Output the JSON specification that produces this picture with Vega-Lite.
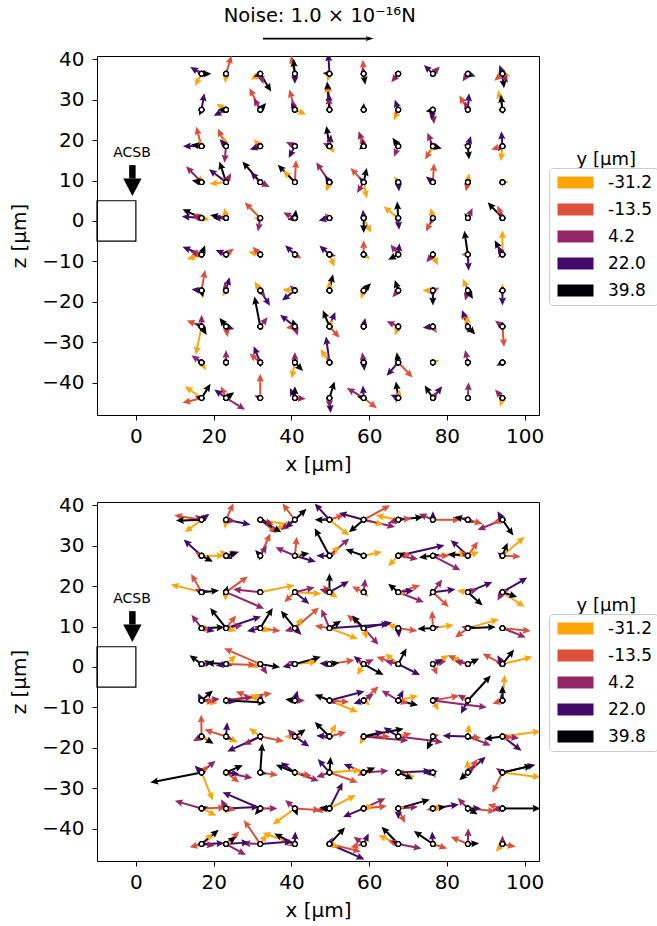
{
"$schema":"https://vega.github.io/schema/vega-lite/v6.json",
"padding":{"left":9,"top":5,"right":0,"bottom":0},
"config":{"font":"DejaVu Sans","view":{"stroke":"black","strokeWidth":1},
"axis":{"grid":false,"domain":false,"tickColor":"black","tickSize":5,"labelColor":"black","titleColor":"black","labelFontSize":20,"titleFontSize":20,"titleFontWeight":"normal","labelFont":"DejaVu Sans","titleFont":"DejaVu Sans"}},
"datasets":{
"acsb":[{"x":-10,"x2":0,"z":-5,"z2":5}],
"acsbt":[{"x":-1.0,"z":15.7,"t":"ACSB"}],
"acsba":[{"x":-0.9,"z":13.8,"z2":10.5}],
"ylab":[{"x":121,"z":15,"t":"y [μm]"}],
"noise":[{"x":47.3,"z":49.2,"t":"Noise: 1.0 × 10⁻¹⁶N"}],
"key":[{"x":32.7,"z":45.1,"u":28.5}],
"top":[
{"x":16.9,"z":36.4,"y":"39.8","u":2.5,"v":0},{"x":16.9,"z":36.4,"y":"22.0","u":-2.9,"v":1.7},{"x":16.9,"z":36.4,"y":"4.2","u":-1.2,"v":1},{"x":16.9,"z":36.4,"y":"-13.5","u":1,"v":1},{"x":16.9,"z":36.4,"y":"-31.2","u":-1.7,"v":-3},
{"x":23.2,"z":36.4,"y":"39.8","u":0.4,"v":0.4},{"x":23.2,"z":36.4,"y":"22.0","u":-0.2,"v":-0.7},{"x":23.2,"z":36.4,"y":"4.2","u":-0.4,"v":-0.8},{"x":23.2,"z":36.4,"y":"-13.5","u":1.4,"v":4.5},{"x":23.2,"z":36.4,"y":"-31.2","u":-0.2,"v":-2.3},
{"x":32,"z":36.4,"y":"39.8","u":2.8,"v":-4.4},{"x":32,"z":36.4,"y":"22.0","u":-1.7,"v":-0.8},{"x":32,"z":36.4,"y":"4.2","u":0.8,"v":-2.5},{"x":32,"z":36.4,"y":"-13.5","u":-0.8,"v":0.4},{"x":32,"z":36.4,"y":"-31.2","u":-2.5,"v":-1.5},
{"x":40.9,"z":36.4,"y":"39.8","u":-0.4,"v":3.7},{"x":40.9,"z":36.4,"y":"22.0","u":0,"v":-2.5},{"x":40.9,"z":36.4,"y":"4.2","u":-0.3,"v":-1.2},{"x":40.9,"z":36.4,"y":"-13.5","u":-1,"v":4.5},{"x":40.9,"z":36.4,"y":"-31.2","u":0.4,"v":-0.8},
{"x":49.8,"z":36.4,"y":"39.8","u":-1.7,"v":0.2},{"x":49.8,"z":36.4,"y":"22.0","u":-0.3,"v":5.1},{"x":49.8,"z":36.4,"y":"4.2","u":-0.4,"v":1.2},{"x":49.8,"z":36.4,"y":"-13.5","u":-0.4,"v":-0.8},{"x":49.8,"z":36.4,"y":"-31.2","u":-0.6,"v":-1.9},
{"x":58.6,"z":36.4,"y":"39.8","u":0.4,"v":-2.7},{"x":58.6,"z":36.4,"y":"22.0","u":0,"v":0.8},{"x":58.6,"z":36.4,"y":"4.2","u":-0.4,"v":1.7},{"x":58.6,"z":36.4,"y":"-13.5","u":-0.2,"v":3.5},{"x":58.6,"z":36.4,"y":"-31.2","u":0.8,"v":-1.2},
{"x":67.5,"z":36.4,"y":"39.8","u":-0.4,"v":0},{"x":67.5,"z":36.4,"y":"22.0","u":-0.8,"v":-1.2},{"x":67.5,"z":36.4,"y":"4.2","u":-1.8,"v":-2.1},{"x":67.5,"z":36.4,"y":"-13.5","u":-0.8,"v":-0.8},{"x":67.5,"z":36.4,"y":"-31.2","u":-1.2,"v":0.4},
{"x":76.4,"z":36.4,"y":"39.8","u":0,"v":0.4},{"x":76.4,"z":36.4,"y":"22.0","u":-2.3,"v":2.2},{"x":76.4,"z":36.4,"y":"4.2","u":1.8,"v":1.8},{"x":76.4,"z":36.4,"y":"-13.5","u":1.2,"v":1.2},{"x":76.4,"z":36.4,"y":"-31.2","u":0.8,"v":0.8},
{"x":85.4,"z":36.4,"y":"39.8","u":0.4,"v":0.4},{"x":85.4,"z":36.4,"y":"22.0","u":2,"v":-0.7},{"x":85.4,"z":36.4,"y":"4.2","u":-1.4,"v":-1.9},{"x":85.4,"z":36.4,"y":"-13.5","u":-0.4,"v":-0.4},{"x":85.4,"z":36.4,"y":"-31.2","u":-0.8,"v":-0.8},
{"x":94.3,"z":36.4,"y":"39.8","u":0.4,"v":-3.6},{"x":94.3,"z":36.4,"y":"22.0","u":-0.8,"v":2.2},{"x":94.3,"z":36.4,"y":"4.2","u":1.4,"v":-2.3},{"x":94.3,"z":36.4,"y":"-13.5","u":-2.1,"v":-1.7},{"x":94.3,"z":36.4,"y":"-31.2","u":2,"v":-0.5},
{"x":16.9,"z":27.5,"y":"39.8","u":-0.6,"v":-1.5},{"x":16.9,"z":27.5,"y":"22.0","u":0.7,"v":4.1},{"x":16.9,"z":27.5,"y":"4.2","u":-0.4,"v":-0.4},{"x":16.9,"z":27.5,"y":"-13.5","u":0.4,"v":0.8},{"x":16.9,"z":27.5,"y":"-31.2","u":0.2,"v":-0.7},
{"x":23.2,"z":27.5,"y":"39.8","u":-2.1,"v":0},{"x":23.2,"z":27.5,"y":"22.0","u":-3.2,"v":-1.5},{"x":23.2,"z":27.5,"y":"4.2","u":-1.7,"v":-0.8},{"x":23.2,"z":27.5,"y":"-13.5","u":-1.2,"v":0.4},{"x":23.2,"z":27.5,"y":"-31.2","u":-2.5,"v":1.5},
{"x":32,"z":27.5,"y":"39.8","u":1.5,"v":1.7},{"x":32,"z":27.5,"y":"22.0","u":-0.8,"v":0.8},{"x":32,"z":27.5,"y":"4.2","u":-1.7,"v":2.9},{"x":32,"z":27.5,"y":"-13.5","u":-2.8,"v":5.4},{"x":32,"z":27.5,"y":"-31.2","u":-0.8,"v":-0.8},
{"x":40.9,"z":27.5,"y":"39.8","u":0,"v":0.7},{"x":40.9,"z":27.5,"y":"22.0","u":-1,"v":1.7},{"x":40.9,"z":27.5,"y":"4.2","u":-0.8,"v":2.5},{"x":40.9,"z":27.5,"y":"-13.5","u":-1.4,"v":5},{"x":40.9,"z":27.5,"y":"-31.2","u":2.9,"v":-1.2},
{"x":49.8,"z":27.5,"y":"39.8","u":-0.6,"v":7},{"x":49.8,"z":27.5,"y":"22.0","u":-0.2,"v":4.1},{"x":49.8,"z":27.5,"y":"4.2","u":-0.2,"v":3.3},{"x":49.8,"z":27.5,"y":"-13.5","u":-0.4,"v":6.6},{"x":49.8,"z":27.5,"y":"-31.2","u":-0.6,"v":6.2},
{"x":58.6,"z":27.5,"y":"39.8","u":0,"v":1.7},{"x":58.6,"z":27.5,"y":"22.0","u":-0.2,"v":0.4},{"x":58.6,"z":27.5,"y":"4.2","u":-0.8,"v":0},{"x":58.6,"z":27.5,"y":"-13.5","u":0.2,"v":0.4},{"x":58.6,"z":27.5,"y":"-31.2","u":0.2,"v":-0.4},
{"x":67.5,"z":27.5,"y":"39.8","u":-0.4,"v":-0.4},{"x":67.5,"z":27.5,"y":"22.0","u":-0.9,"v":2.5},{"x":67.5,"z":27.5,"y":"4.2","u":-0.8,"v":-1.2},{"x":67.5,"z":27.5,"y":"-13.5","u":-0.4,"v":0.8},{"x":67.5,"z":27.5,"y":"-31.2","u":-1.1,"v":-2.6},
{"x":76.4,"z":27.5,"y":"39.8","u":-1.8,"v":-0.4},{"x":76.4,"z":27.5,"y":"22.0","u":-0.4,"v":-2.5},{"x":76.4,"z":27.5,"y":"4.2","u":0.3,"v":-3.5},{"x":76.4,"z":27.5,"y":"-13.5","u":0,"v":-1.2},{"x":76.4,"z":27.5,"y":"-31.2","u":0.4,"v":-0.8},
{"x":85.4,"z":27.5,"y":"39.8","u":0,"v":0.8},{"x":85.4,"z":27.5,"y":"22.0","u":0.3,"v":4.1},{"x":85.4,"z":27.5,"y":"4.2","u":-0.8,"v":2.1},{"x":85.4,"z":27.5,"y":"-13.5","u":-2.2,"v":3.5},{"x":85.4,"z":27.5,"y":"-31.2","u":-0.4,"v":1.2},
{"x":94.3,"z":27.5,"y":"39.8","u":-0.4,"v":3.7},{"x":94.3,"z":27.5,"y":"22.0","u":0,"v":-0.8},{"x":94.3,"z":27.5,"y":"4.2","u":0.2,"v":-1.2},{"x":94.3,"z":27.5,"y":"-13.5","u":-0.4,"v":0.8},{"x":94.3,"z":27.5,"y":"-31.2","u":-1.1,"v":4.8},
{"x":16.9,"z":18.5,"y":"39.8","u":-2.7,"v":0.4},{"x":16.9,"z":18.5,"y":"22.0","u":-4.8,"v":0},{"x":16.9,"z":18.5,"y":"4.2","u":-1.7,"v":0},{"x":16.9,"z":18.5,"y":"-13.5","u":-1.4,"v":4.8},{"x":16.9,"z":18.5,"y":"-31.2","u":-0.8,"v":1.7},
{"x":23.2,"z":18.5,"y":"39.8","u":0.4,"v":0.4},{"x":23.2,"z":18.5,"y":"22.0","u":-1.7,"v":1.7},{"x":23.2,"z":18.5,"y":"4.2","u":-0.4,"v":-4.1},{"x":23.2,"z":18.5,"y":"-13.5","u":-2.1,"v":4.3},{"x":23.2,"z":18.5,"y":"-31.2","u":-0.8,"v":2.5},
{"x":32,"z":18.5,"y":"39.8","u":-0.4,"v":0},{"x":32,"z":18.5,"y":"22.0","u":-2.7,"v":-0.8},{"x":32,"z":18.5,"y":"4.2","u":-2.1,"v":-0.4},{"x":32,"z":18.5,"y":"-13.5","u":-0.8,"v":0.8},{"x":32,"z":18.5,"y":"-31.2","u":-1.7,"v":1.7},
{"x":40.9,"z":18.5,"y":"39.8","u":0,"v":0.8},{"x":40.9,"z":18.5,"y":"22.0","u":-1.6,"v":-2.9},{"x":40.9,"z":18.5,"y":"4.2","u":-2.3,"v":1},{"x":40.9,"z":18.5,"y":"-13.5","u":-0.8,"v":-0.8},{"x":40.9,"z":18.5,"y":"-31.2","u":-0.8,"v":0.8},
{"x":49.8,"z":18.5,"y":"39.8","u":-0.8,"v":5},{"x":49.8,"z":18.5,"y":"22.0","u":0.4,"v":2.9},{"x":49.8,"z":18.5,"y":"4.2","u":-1.7,"v":0.8},{"x":49.8,"z":18.5,"y":"-13.5","u":-0.4,"v":1.7},{"x":49.8,"z":18.5,"y":"-31.2","u":1.3,"v":-1.7},
{"x":58.6,"z":18.5,"y":"39.8","u":-1.2,"v":-0.8},{"x":58.6,"z":18.5,"y":"22.0","u":-0.4,"v":1.7},{"x":58.6,"z":18.5,"y":"4.2","u":-1.3,"v":3.7},{"x":58.6,"z":18.5,"y":"-13.5","u":-0.7,"v":2.5},{"x":58.6,"z":18.5,"y":"-31.2","u":0.4,"v":0.8},
{"x":67.5,"z":18.5,"y":"39.8","u":-1.5,"v":2.1},{"x":67.5,"z":18.5,"y":"22.0","u":-0.4,"v":-0.8},{"x":67.5,"z":18.5,"y":"4.2","u":-1.1,"v":-2.6},{"x":67.5,"z":18.5,"y":"-13.5","u":0.4,"v":1.2},{"x":67.5,"z":18.5,"y":"-31.2","u":-0.8,"v":-1.2},
{"x":76.4,"z":18.5,"y":"39.8","u":2.3,"v":-0.6},{"x":76.4,"z":18.5,"y":"22.0","u":-0.8,"v":1.2},{"x":76.4,"z":18.5,"y":"4.2","u":-1.4,"v":3.3},{"x":76.4,"z":18.5,"y":"-13.5","u":-2,"v":-3.3},{"x":76.4,"z":18.5,"y":"-31.2","u":-0.8,"v":-1.7},
{"x":85.4,"z":18.5,"y":"39.8","u":0.3,"v":-3.3},{"x":85.4,"z":18.5,"y":"22.0","u":0.8,"v":2.5},{"x":85.4,"z":18.5,"y":"4.2","u":0.4,"v":-0.8},{"x":85.4,"z":18.5,"y":"-13.5","u":-1.2,"v":0.4},{"x":85.4,"z":18.5,"y":"-31.2","u":-0.8,"v":0.4},
{"x":94.3,"z":18.5,"y":"39.8","u":0.4,"v":0.8},{"x":94.3,"z":18.5,"y":"22.0","u":-0.3,"v":3.7},{"x":94.3,"z":18.5,"y":"4.2","u":-1.2,"v":-1.2},{"x":94.3,"z":18.5,"y":"-13.5","u":-2.9,"v":-0.8},{"x":94.3,"z":18.5,"y":"-31.2","u":-0.4,"v":-3.7},
{"x":16.9,"z":9.6,"y":"39.8","u":-2.5,"v":0.4},{"x":16.9,"z":9.6,"y":"22.0","u":-1.2,"v":0.8},{"x":16.9,"z":9.6,"y":"4.2","u":-4,"v":3.9},{"x":16.9,"z":9.6,"y":"-13.5","u":-0.8,"v":1.2},{"x":16.9,"z":9.6,"y":"-31.2","u":-0.4,"v":1.7},
{"x":23.2,"z":9.6,"y":"39.8","u":-1.7,"v":5.1},{"x":23.2,"z":9.6,"y":"22.0","u":-4.4,"v":3.2},{"x":23.2,"z":9.6,"y":"4.2","u":1.3,"v":2.2},{"x":23.2,"z":9.6,"y":"-13.5","u":-0.8,"v":1.2},{"x":23.2,"z":9.6,"y":"-31.2","u":-4.3,"v":-0.4},
{"x":32,"z":9.6,"y":"39.8","u":-4.6,"v":5.1},{"x":32,"z":9.6,"y":"22.0","u":-2.5,"v":2.5},{"x":32,"z":9.6,"y":"4.2","u":2.4,"v":-1.2},{"x":32,"z":9.6,"y":"-13.5","u":-1.2,"v":0.8},{"x":32,"z":9.6,"y":"-31.2","u":-0.8,"v":-0.4},
{"x":40.9,"z":9.6,"y":"39.8","u":-4.4,"v":4.3},{"x":40.9,"z":9.6,"y":"22.0","u":-0.8,"v":-0.4},{"x":40.9,"z":9.6,"y":"4.2","u":-0.4,"v":-0.8},{"x":40.9,"z":9.6,"y":"-13.5","u":0.3,"v":5.5},{"x":40.9,"z":9.6,"y":"-31.2","u":-3,"v":2.9},
{"x":49.8,"z":9.6,"y":"39.8","u":-0.8,"v":0.8},{"x":49.8,"z":9.6,"y":"22.0","u":-1.2,"v":1.7},{"x":49.8,"z":9.6,"y":"4.2","u":-3.4,"v":4.9},{"x":49.8,"z":9.6,"y":"-13.5","u":-0.4,"v":-0.8},{"x":49.8,"z":9.6,"y":"-31.2","u":-0.8,"v":-2.3},
{"x":58.6,"z":9.6,"y":"39.8","u":0.8,"v":3.5},{"x":58.6,"z":9.6,"y":"22.0","u":-1.2,"v":1.2},{"x":58.6,"z":9.6,"y":"4.2","u":-1.7,"v":-2.7},{"x":58.6,"z":9.6,"y":"-13.5","u":-3.4,"v":3.5},{"x":58.6,"z":9.6,"y":"-31.2","u":0.8,"v":-4},
{"x":67.5,"z":9.6,"y":"39.8","u":0.4,"v":0.4},{"x":67.5,"z":9.6,"y":"22.0","u":0.2,"v":-2.3},{"x":67.5,"z":9.6,"y":"4.2","u":-0.4,"v":-0.8},{"x":67.5,"z":9.6,"y":"-13.5","u":0.4,"v":-0.4},{"x":67.5,"z":9.6,"y":"-31.2","u":-1.1,"v":1.4},
{"x":76.4,"z":9.6,"y":"39.8","u":-0.4,"v":0},{"x":76.4,"z":9.6,"y":"22.0","u":-1.8,"v":1.4},{"x":76.4,"z":9.6,"y":"4.2","u":-0.8,"v":0.4},{"x":76.4,"z":9.6,"y":"-13.5","u":0.3,"v":4.7},{"x":76.4,"z":9.6,"y":"-31.2","u":-0.4,"v":0.8},
{"x":85.4,"z":9.6,"y":"39.8","u":0,"v":-0.4},{"x":85.4,"z":9.6,"y":"22.0","u":0.4,"v":0.8},{"x":85.4,"z":9.6,"y":"4.2","u":0,"v":-0.8},{"x":85.4,"z":9.6,"y":"-13.5","u":-0.5,"v":-2.3},{"x":85.4,"z":9.6,"y":"-31.2","u":0.3,"v":2.2},
{"x":94.3,"z":9.6,"y":"39.8","u":0.4,"v":0.4},{"x":94.3,"z":9.6,"y":"22.0","u":-0.4,"v":0.4},{"x":94.3,"z":9.6,"y":"4.2","u":-0.8,"v":-0.4},{"x":94.3,"z":9.6,"y":"-13.5","u":0,"v":-1.2},{"x":94.3,"z":9.6,"y":"-31.2","u":1.7,"v":0},
{"x":16.9,"z":0.7,"y":"39.8","u":-4.9,"v":2.2},{"x":16.9,"z":0.7,"y":"22.0","u":-5.1,"v":0.4},{"x":16.9,"z":0.7,"y":"4.2","u":-2.5,"v":0.4},{"x":16.9,"z":0.7,"y":"-13.5","u":-2.1,"v":1.2},{"x":16.9,"z":0.7,"y":"-31.2","u":2.1,"v":-0.4},
{"x":23.2,"z":0.7,"y":"39.8","u":-4.1,"v":0.8},{"x":23.2,"z":0.7,"y":"22.0","u":-3.4,"v":0},{"x":23.2,"z":0.7,"y":"4.2","u":-1.7,"v":0.4},{"x":23.2,"z":0.7,"y":"-13.5","u":-1.2,"v":-0.4},{"x":23.2,"z":0.7,"y":"-31.2","u":-0.4,"v":2.5},
{"x":32,"z":0.7,"y":"39.8","u":-0.8,"v":-0.8},{"x":32,"z":0.7,"y":"22.0","u":-0.4,"v":-1.2},{"x":32,"z":0.7,"y":"4.2","u":-0.6,"v":-3.3},{"x":32,"z":0.7,"y":"-13.5","u":-4,"v":3.9},{"x":32,"z":0.7,"y":"-31.2","u":-1.7,"v":0},
{"x":40.9,"z":0.7,"y":"39.8","u":0.3,"v":2.1},{"x":40.9,"z":0.7,"y":"22.0","u":-1.9,"v":-0.4},{"x":40.9,"z":0.7,"y":"4.2","u":-3,"v":1.4},{"x":40.9,"z":0.7,"y":"-13.5","u":-0.4,"v":-0.4},{"x":40.9,"z":0.7,"y":"-31.2","u":-0.4,"v":0.8},
{"x":49.8,"z":0.7,"y":"39.8","u":-0.4,"v":0},{"x":49.8,"z":0.7,"y":"22.0","u":-2.8,"v":-0.6},{"x":49.8,"z":0.7,"y":"4.2","u":-1.7,"v":0.4},{"x":49.8,"z":0.7,"y":"-13.5","u":-1.3,"v":1.2},{"x":49.8,"z":0.7,"y":"-31.2","u":-0.8,"v":0.8},
{"x":58.6,"z":0.7,"y":"39.8","u":0,"v":-3.7},{"x":58.6,"z":0.7,"y":"22.0","u":-0.2,"v":2.1},{"x":58.6,"z":0.7,"y":"4.2","u":-0.4,"v":1.2},{"x":58.6,"z":0.7,"y":"-13.5","u":0,"v":-0.8},{"x":58.6,"z":0.7,"y":"-31.2","u":1.9,"v":-3.6},
{"x":67.5,"z":0.7,"y":"39.8","u":-0.3,"v":4.1},{"x":67.5,"z":0.7,"y":"22.0","u":0.2,"v":-2.9},{"x":67.5,"z":0.7,"y":"4.2","u":-0.4,"v":-1.7},{"x":67.5,"z":0.7,"y":"-13.5","u":-0.8,"v":0.8},{"x":67.5,"z":0.7,"y":"-31.2","u":-3.8,"v":2.9},
{"x":76.4,"z":0.7,"y":"39.8","u":0,"v":0.4},{"x":76.4,"z":0.7,"y":"22.0","u":0.4,"v":-0.8},{"x":76.4,"z":0.7,"y":"4.2","u":-0.8,"v":-1.7},{"x":76.4,"z":0.7,"y":"-13.5","u":-1.8,"v":-3.3},{"x":76.4,"z":0.7,"y":"-31.2","u":-0.6,"v":2.5},
{"x":85.4,"z":0.7,"y":"39.8","u":-0.9,"v":1.2},{"x":85.4,"z":0.7,"y":"22.0","u":0.8,"v":0.8},{"x":85.4,"z":0.7,"y":"4.2","u":1.2,"v":2.5},{"x":85.4,"z":0.7,"y":"-13.5","u":0.4,"v":0.4},{"x":85.4,"z":0.7,"y":"-31.2","u":-0.4,"v":0.8},
{"x":94.3,"z":0.7,"y":"39.8","u":-3.8,"v":3.9},{"x":94.3,"z":0.7,"y":"22.0","u":0,"v":0.8},{"x":94.3,"z":0.7,"y":"4.2","u":-0.4,"v":1.7},{"x":94.3,"z":0.7,"y":"-13.5","u":-1.3,"v":3.1},{"x":94.3,"z":0.7,"y":"-31.2","u":0,"v":1.2},
{"x":16.9,"z":-8.3,"y":"39.8","u":0.9,"v":2.3},{"x":16.9,"z":-8.3,"y":"22.0","u":-4.9,"v":1.9},{"x":16.9,"z":-8.3,"y":"4.2","u":-3,"v":0.8},{"x":16.9,"z":-8.3,"y":"-13.5","u":-2.6,"v":0},{"x":16.9,"z":-8.3,"y":"-31.2","u":-3.8,"v":-1.2},
{"x":23.2,"z":-8.3,"y":"39.8","u":0.8,"v":-0.4},{"x":23.2,"z":-8.3,"y":"22.0","u":-2.7,"v":1.1},{"x":23.2,"z":-8.3,"y":"4.2","u":-1.7,"v":0.4},{"x":23.2,"z":-8.3,"y":"-13.5","u":2,"v":1.5},{"x":23.2,"z":-8.3,"y":"-31.2","u":-0.8,"v":0.8},
{"x":32,"z":-8.3,"y":"39.8","u":0,"v":-0.4},{"x":32,"z":-8.3,"y":"22.0","u":-0.4,"v":0.4},{"x":32,"z":-8.3,"y":"4.2","u":-0.8,"v":0.8},{"x":32,"z":-8.3,"y":"-13.5","u":-2,"v":1.9},{"x":32,"z":-8.3,"y":"-31.2","u":-3.1,"v":0.7},
{"x":40.9,"z":-8.3,"y":"39.8","u":0.4,"v":0.4},{"x":40.9,"z":-8.3,"y":"22.0","u":-2.5,"v":2.3},{"x":40.9,"z":-8.3,"y":"4.2","u":-0.8,"v":0.8},{"x":40.9,"z":-8.3,"y":"-13.5","u":1.7,"v":-1},{"x":40.9,"z":-8.3,"y":"-31.2","u":0.8,"v":-0.8},
{"x":49.8,"z":-8.3,"y":"39.8","u":0.4,"v":0.4},{"x":49.8,"z":-8.3,"y":"22.0","u":-2.6,"v":2.2},{"x":49.8,"z":-8.3,"y":"4.2","u":1.7,"v":-0.4},{"x":49.8,"z":-8.3,"y":"-13.5","u":0,"v":-0.8},{"x":49.8,"z":-8.3,"y":"-31.2","u":1.3,"v":-3},
{"x":58.6,"z":-8.3,"y":"39.8","u":0.4,"v":-0.8},{"x":58.6,"z":-8.3,"y":"22.0","u":-0.4,"v":0.4},{"x":58.6,"z":-8.3,"y":"4.2","u":-0.4,"v":-0.4},{"x":58.6,"z":-8.3,"y":"-13.5","u":0,"v":3.5},{"x":58.6,"z":-8.3,"y":"-31.2","u":1.7,"v":-1.1},
{"x":67.5,"z":-8.3,"y":"39.8","u":-2.6,"v":-1.3},{"x":67.5,"z":-8.3,"y":"22.0","u":0.3,"v":2.8},{"x":67.5,"z":-8.3,"y":"4.2","u":-2,"v":2.5},{"x":67.5,"z":-8.3,"y":"-13.5","u":-0.8,"v":0.8},{"x":67.5,"z":-8.3,"y":"-31.2","u":-0.4,"v":-0.4},
{"x":76.4,"z":-8.3,"y":"39.8","u":0,"v":-0.4},{"x":76.4,"z":-8.3,"y":"22.0","u":-0.4,"v":0.8},{"x":76.4,"z":-8.3,"y":"4.2","u":-1.7,"v":-1.9},{"x":76.4,"z":-8.3,"y":"-13.5","u":-0.8,"v":0.4},{"x":76.4,"z":-8.3,"y":"-31.2","u":1.3,"v":-2.7},
{"x":85.4,"z":-8.3,"y":"39.8","u":-0.9,"v":5.9},{"x":85.4,"z":-8.3,"y":"22.0","u":0.2,"v":-4},{"x":85.4,"z":-8.3,"y":"4.2","u":-0.4,"v":-0.8},{"x":85.4,"z":-8.3,"y":"-13.5","u":-1.7,"v":0},{"x":85.4,"z":-8.3,"y":"-31.2","u":-0.8,"v":0.4},
{"x":94.3,"z":-8.3,"y":"39.8","u":-2,"v":3.5},{"x":94.3,"z":-8.3,"y":"22.0","u":-1.3,"v":2.1},{"x":94.3,"z":-8.3,"y":"4.2","u":-0.4,"v":0.8},{"x":94.3,"z":-8.3,"y":"-13.5","u":-1.3,"v":-0.8},{"x":94.3,"z":-8.3,"y":"-31.2","u":0,"v":6},
{"x":16.9,"z":-17.2,"y":"39.8","u":0.4,"v":-1.7},{"x":16.9,"z":-17.2,"y":"22.0","u":-2.6,"v":0.3},{"x":16.9,"z":-17.2,"y":"4.2","u":-0.8,"v":-0.8},{"x":16.9,"z":-17.2,"y":"-13.5","u":0.9,"v":5.1},{"x":16.9,"z":-17.2,"y":"-31.2","u":0.3,"v":-1.9},
{"x":23.2,"z":-17.2,"y":"39.8","u":0.4,"v":0.8},{"x":23.2,"z":-17.2,"y":"22.0","u":0.9,"v":3.3},{"x":23.2,"z":-17.2,"y":"4.2","u":-0.4,"v":2.1},{"x":23.2,"z":-17.2,"y":"-13.5","u":-0.8,"v":0.8},{"x":23.2,"z":-17.2,"y":"-31.2","u":-1,"v":-1.5},
{"x":32,"z":-17.2,"y":"39.8","u":0.4,"v":-0.8},{"x":32,"z":-17.2,"y":"22.0","u":2.5,"v":-3.8},{"x":32,"z":-17.2,"y":"4.2","u":1.3,"v":-1.7},{"x":32,"z":-17.2,"y":"-13.5","u":-0.8,"v":0.8},{"x":32,"z":-17.2,"y":"-31.2","u":-1.5,"v":2.2},
{"x":40.9,"z":-17.2,"y":"39.8","u":0.4,"v":0.8},{"x":40.9,"z":-17.2,"y":"22.0","u":-3.3,"v":-2.5},{"x":40.9,"z":-17.2,"y":"4.2","u":-1.3,"v":1.3},{"x":40.9,"z":-17.2,"y":"-13.5","u":-0.8,"v":0},{"x":40.9,"z":-17.2,"y":"-31.2","u":-3.2,"v":0.2},
{"x":49.8,"z":-17.2,"y":"39.8","u":0.9,"v":4},{"x":49.8,"z":-17.2,"y":"22.0","u":0,"v":0.8},{"x":49.8,"z":-17.2,"y":"4.2","u":-0.4,"v":0.4},{"x":49.8,"z":-17.2,"y":"-13.5","u":-0.8,"v":0.4},{"x":49.8,"z":-17.2,"y":"-31.2","u":0,"v":2.5},
{"x":58.6,"z":-17.2,"y":"39.8","u":1.9,"v":1.8},{"x":58.6,"z":-17.2,"y":"22.0","u":-0.3,"v":0.6},{"x":58.6,"z":-17.2,"y":"4.2","u":-0.6,"v":0.3},{"x":58.6,"z":-17.2,"y":"-13.5","u":0.3,"v":0.5},{"x":58.6,"z":-17.2,"y":"-31.2","u":-0.7,"v":-2.1},
{"x":67.5,"z":-17.2,"y":"39.8","u":-0.9,"v":2.6},{"x":67.5,"z":-17.2,"y":"22.0","u":-0.4,"v":0.8},{"x":67.5,"z":-17.2,"y":"4.2","u":-1.5,"v":-1.7},{"x":67.5,"z":-17.2,"y":"-13.5","u":0.4,"v":-0.4},{"x":67.5,"z":-17.2,"y":"-31.2","u":0,"v":-0.8},
{"x":76.4,"z":-17.2,"y":"39.8","u":0,"v":-3.7},{"x":76.4,"z":-17.2,"y":"22.0","u":0,"v":-1.7},{"x":76.4,"z":-17.2,"y":"4.2","u":-0.8,"v":-0.8},{"x":76.4,"z":-17.2,"y":"-13.5","u":1.7,"v":0.7},{"x":76.4,"z":-17.2,"y":"-31.2","u":-2.7,"v":0},
{"x":85.4,"z":-17.2,"y":"39.8","u":1.3,"v":-2.1},{"x":85.4,"z":-17.2,"y":"22.0","u":-0.4,"v":1.2},{"x":85.4,"z":-17.2,"y":"4.2","u":-0.7,"v":-2.5},{"x":85.4,"z":-17.2,"y":"-13.5","u":-0.4,"v":-0.8},{"x":85.4,"z":-17.2,"y":"-31.2","u":-1.3,"v":2.9},
{"x":94.3,"z":-17.2,"y":"39.8","u":0,"v":-0.8},{"x":94.3,"z":-17.2,"y":"22.0","u":0,"v":-3.7},{"x":94.3,"z":-17.2,"y":"4.2","u":-1.2,"v":-0.4},{"x":94.3,"z":-17.2,"y":"-13.5","u":0.4,"v":0.8},{"x":94.3,"z":-17.2,"y":"-31.2","u":0,"v":1.7},
{"x":16.9,"z":-26.1,"y":"39.8","u":1.3,"v":-2.1},{"x":16.9,"z":-26.1,"y":"22.0","u":-1.7,"v":0.8},{"x":16.9,"z":-26.1,"y":"4.2","u":0,"v":2.9},{"x":16.9,"z":-26.1,"y":"-13.5","u":-3.8,"v":1.5},{"x":16.9,"z":-26.1,"y":"-31.2","u":-1.5,"v":-7},
{"x":23.2,"z":-26.1,"y":"39.8","u":-1.7,"v":2.1},{"x":23.2,"z":-26.1,"y":"22.0","u":2.1,"v":-0.7},{"x":23.2,"z":-26.1,"y":"4.2","u":0.4,"v":-1.2},{"x":23.2,"z":-26.1,"y":"-13.5","u":0.4,"v":-2.6},{"x":23.2,"z":-26.1,"y":"-31.2","u":0,"v":-0.4},
{"x":32,"z":-26.1,"y":"39.8","u":-1.5,"v":7.4},{"x":32,"z":-26.1,"y":"22.0","u":0.4,"v":0.4},{"x":32,"z":-26.1,"y":"4.2","u":1.9,"v":2.3},{"x":32,"z":-26.1,"y":"-13.5","u":0.4,"v":0.8},{"x":32,"z":-26.1,"y":"-31.2","u":0,"v":0.4},
{"x":40.9,"z":-26.1,"y":"39.8","u":-0.6,"v":1.8},{"x":40.9,"z":-26.1,"y":"22.0","u":-3.8,"v":2.9},{"x":40.9,"z":-26.1,"y":"4.2","u":0.7,"v":-2.3},{"x":40.9,"z":-26.1,"y":"-13.5","u":-2.3,"v":-0.4},{"x":40.9,"z":-26.1,"y":"-31.2","u":-0.8,"v":0.4},
{"x":49.8,"z":-26.1,"y":"39.8","u":-1.7,"v":4},{"x":49.8,"z":-26.1,"y":"22.0","u":1.5,"v":3.6},{"x":49.8,"z":-26.1,"y":"4.2","u":0,"v":1.2},{"x":49.8,"z":-26.1,"y":"-13.5","u":2.6,"v":-2.8},{"x":49.8,"z":-26.1,"y":"-31.2","u":0.8,"v":1.7},
{"x":58.6,"z":-26.1,"y":"39.8","u":-0.3,"v":0.8},{"x":58.6,"z":-26.1,"y":"22.0","u":0.4,"v":2.1},{"x":58.6,"z":-26.1,"y":"4.2","u":-0.4,"v":1.2},{"x":58.6,"z":-26.1,"y":"-13.5","u":0.4,"v":0.4},{"x":58.6,"z":-26.1,"y":"-31.2","u":0.3,"v":-0.4},
{"x":67.5,"z":-26.1,"y":"39.8","u":0,"v":-1.2},{"x":67.5,"z":-26.1,"y":"22.0","u":-0.4,"v":0.4},{"x":67.5,"z":-26.1,"y":"4.2","u":-3,"v":1.3},{"x":67.5,"z":-26.1,"y":"-13.5","u":-0.8,"v":0.4},{"x":67.5,"z":-26.1,"y":"-31.2","u":-0.9,"v":-2.2},
{"x":76.4,"z":-26.1,"y":"39.8","u":-0.8,"v":0},{"x":76.4,"z":-26.1,"y":"22.0","u":-2.6,"v":-0.3},{"x":76.4,"z":-26.1,"y":"4.2","u":-0.4,"v":0.4},{"x":76.4,"z":-26.1,"y":"-13.5","u":1,"v":-1.7},{"x":76.4,"z":-26.1,"y":"-31.2","u":0,"v":-0.4},
{"x":85.4,"z":-26.1,"y":"39.8","u":1.9,"v":-2},{"x":85.4,"z":-26.1,"y":"22.0","u":-1.5,"v":4.1},{"x":85.4,"z":-26.1,"y":"4.2","u":0,"v":-1.7},{"x":85.4,"z":-26.1,"y":"-13.5","u":-1.3,"v":3.7},{"x":85.4,"z":-26.1,"y":"-31.2","u":-0.3,"v":2.7},
{"x":94.3,"z":-26.1,"y":"39.8","u":-0.4,"v":0.4},{"x":94.3,"z":-26.1,"y":"22.0","u":0,"v":1.2},{"x":94.3,"z":-26.1,"y":"4.2","u":-1.9,"v":1.5},{"x":94.3,"z":-26.1,"y":"-13.5","u":0.4,"v":-5.1},{"x":94.3,"z":-26.1,"y":"-31.2","u":0,"v":-0.8},
{"x":16.9,"z":-35,"y":"39.8","u":0.4,"v":-0.4},{"x":16.9,"z":-35,"y":"22.0","u":-1.2,"v":0.8},{"x":16.9,"z":-35,"y":"4.2","u":-2.6,"v":1.8},{"x":16.9,"z":-35,"y":"-13.5","u":-0.8,"v":0.4},{"x":16.9,"z":-35,"y":"-31.2","u":1.1,"v":-1.9},
{"x":23.2,"z":-35,"y":"39.8","u":-0.8,"v":0},{"x":23.2,"z":-35,"y":"22.0","u":-0.3,"v":0.8},{"x":23.2,"z":-35,"y":"4.2","u":0,"v":3.1},{"x":23.2,"z":-35,"y":"-13.5","u":-0.4,"v":1.2},{"x":23.2,"z":-35,"y":"-31.2","u":0,"v":-1.2},
{"x":32,"z":-35,"y":"39.8","u":0,"v":-1.2},{"x":32,"z":-35,"y":"22.0","u":-1.7,"v":4},{"x":32,"z":-35,"y":"4.2","u":-0.8,"v":1.2},{"x":32,"z":-35,"y":"-13.5","u":-2.8,"v":2.2},{"x":32,"z":-35,"y":"-31.2","u":-0.4,"v":0.4},
{"x":40.9,"z":-35,"y":"39.8","u":2.1,"v":-2.1},{"x":40.9,"z":-35,"y":"22.0","u":0,"v":0.8},{"x":40.9,"z":-35,"y":"4.2","u":0,"v":2.6},{"x":40.9,"z":-35,"y":"-13.5","u":-0.4,"v":-1.2},{"x":40.9,"z":-35,"y":"-31.2","u":-0.8,"v":-4},
{"x":49.8,"z":-35,"y":"39.8","u":0,"v":0.8},{"x":49.8,"z":-35,"y":"22.0","u":-0.9,"v":6.4},{"x":49.8,"z":-35,"y":"4.2","u":-0.4,"v":1.7},{"x":49.8,"z":-35,"y":"-13.5","u":-0.8,"v":0.8},{"x":49.8,"z":-35,"y":"-31.2","u":-2.3,"v":3.3},
{"x":58.6,"z":-35,"y":"39.8","u":0,"v":0.8},{"x":58.6,"z":-35,"y":"22.0","u":0.2,"v":-2.1},{"x":58.6,"z":-35,"y":"4.2","u":-0.4,"v":2.5},{"x":58.6,"z":-35,"y":"-13.5","u":0,"v":-0.8},{"x":58.6,"z":-35,"y":"-31.2","u":-0.3,"v":-0.4},
{"x":67.5,"z":-35,"y":"39.8","u":-0.4,"v":2.5},{"x":67.5,"z":-35,"y":"22.0","u":-3,"v":-3.3},{"x":67.5,"z":-35,"y":"4.2","u":-1.2,"v":-1.2},{"x":67.5,"z":-35,"y":"-13.5","u":3.7,"v":-3.7},{"x":67.5,"z":-35,"y":"-31.2","u":-0.8,"v":-0.8},
{"x":76.4,"z":-35,"y":"39.8","u":0.3,"v":-0.3},{"x":76.4,"z":-35,"y":"22.0","u":0.4,"v":0},{"x":76.4,"z":-35,"y":"4.2","u":0.3,"v":0.3},{"x":76.4,"z":-35,"y":"-13.5","u":0.4,"v":0.3},{"x":76.4,"z":-35,"y":"-31.2","u":1.7,"v":0.6},
{"x":85.4,"z":-35,"y":"39.8","u":0,"v":-1.2},{"x":85.4,"z":-35,"y":"22.0","u":-0.3,"v":-0.4},{"x":85.4,"z":-35,"y":"4.2","u":-0.7,"v":3.1},{"x":85.4,"z":-35,"y":"-13.5","u":-0.4,"v":1.2},{"x":85.4,"z":-35,"y":"-31.2","u":0,"v":0.8},
{"x":94.3,"z":-35,"y":"39.8","u":0,"v":0.4},{"x":94.3,"z":-35,"y":"22.0","u":-1.6,"v":-0.8},{"x":94.3,"z":-35,"y":"4.2","u":-0.4,"v":-0.4},{"x":94.3,"z":-35,"y":"-13.5","u":0,"v":-0.7},{"x":94.3,"z":-35,"y":"-31.2","u":0.4,"v":0.4},
{"x":16.9,"z":-43.8,"y":"39.8","u":2.3,"v":3.5},{"x":16.9,"z":-43.8,"y":"22.0","u":-1.7,"v":0.4},{"x":16.9,"z":-43.8,"y":"4.2","u":-0.8,"v":-0.4},{"x":16.9,"z":-43.8,"y":"-13.5","u":-4.9,"v":-1.2},{"x":16.9,"z":-43.8,"y":"-31.2","u":-4.3,"v":2.9},
{"x":23.2,"z":-43.8,"y":"39.8","u":2.1,"v":1.4},{"x":23.2,"z":-43.8,"y":"22.0","u":-3,"v":2.1},{"x":23.2,"z":-43.8,"y":"4.2","u":4.9,"v":-2.9},{"x":23.2,"z":-43.8,"y":"-13.5","u":-1.3,"v":2.9},{"x":23.2,"z":-43.8,"y":"-31.2","u":-0.4,"v":-0.4},
{"x":32,"z":-43.8,"y":"39.8","u":0,"v":0.4},{"x":32,"z":-43.8,"y":"22.0","u":-1.5,"v":0.6},{"x":32,"z":-43.8,"y":"4.2","u":0.4,"v":-0.4},{"x":32,"z":-43.8,"y":"-13.5","u":0,"v":6},{"x":32,"z":-43.8,"y":"-31.2","u":-0.4,"v":-0.8},
{"x":40.9,"z":-43.8,"y":"39.8","u":0,"v":2.9},{"x":40.9,"z":-43.8,"y":"22.0","u":-1.3,"v":2.5},{"x":40.9,"z":-43.8,"y":"4.2","u":2.8,"v":-0.2},{"x":40.9,"z":-43.8,"y":"-13.5","u":1.3,"v":-0.4},{"x":40.9,"z":-43.8,"y":"-31.2","u":0.4,"v":-0.8},
{"x":49.8,"z":-43.8,"y":"39.8","u":1.3,"v":4.1},{"x":49.8,"z":-43.8,"y":"22.0","u":0.3,"v":-3.7},{"x":49.8,"z":-43.8,"y":"4.2","u":0,"v":-2.5},{"x":49.8,"z":-43.8,"y":"-13.5","u":0.4,"v":-1.2},{"x":49.8,"z":-43.8,"y":"-31.2","u":-0.4,"v":0.8},
{"x":58.6,"z":-43.8,"y":"39.8","u":-1.7,"v":0.4},{"x":58.6,"z":-43.8,"y":"22.0","u":-0.2,"v":3.1},{"x":58.6,"z":-43.8,"y":"4.2","u":-4.3,"v":2.5},{"x":58.6,"z":-43.8,"y":"-13.5","u":3.4,"v":-2.5},{"x":58.6,"z":-43.8,"y":"-31.2","u":0.8,"v":-0.8},
{"x":67.5,"z":-43.8,"y":"39.8","u":-0.6,"v":4.1},{"x":67.5,"z":-43.8,"y":"22.0","u":-2,"v":0.8},{"x":67.5,"z":-43.8,"y":"4.2","u":-1.2,"v":-0.4},{"x":67.5,"z":-43.8,"y":"-13.5","u":-0.8,"v":-1.2},{"x":67.5,"z":-43.8,"y":"-31.2","u":0.4,"v":2.1},
{"x":76.4,"z":-43.8,"y":"39.8","u":-2.1,"v":3.1},{"x":76.4,"z":-43.8,"y":"22.0","u":2.4,"v":2.9},{"x":76.4,"z":-43.8,"y":"4.2","u":1.2,"v":1.7},{"x":76.4,"z":-43.8,"y":"-13.5","u":-0.4,"v":1.2},{"x":76.4,"z":-43.8,"y":"-31.2","u":0.4,"v":0.8},
{"x":85.4,"z":-43.8,"y":"39.8","u":0,"v":0.4},{"x":85.4,"z":-43.8,"y":"22.0","u":0.4,"v":0.4},{"x":85.4,"z":-43.8,"y":"4.2","u":0.2,"v":3.9},{"x":85.4,"z":-43.8,"y":"-13.5","u":0,"v":1.2},{"x":85.4,"z":-43.8,"y":"-31.2","u":-0.3,"v":-0.4},
{"x":94.3,"z":-43.8,"y":"39.8","u":0,"v":0.4},{"x":94.3,"z":-43.8,"y":"22.0","u":-0.8,"v":0.8},{"x":94.3,"z":-43.8,"y":"4.2","u":-1.9,"v":2.1},{"x":94.3,"z":-43.8,"y":"-13.5","u":-0.4,"v":1.2},{"x":94.3,"z":-43.8,"y":"-31.2","u":-0.6,"v":-2.1}
],
"bottom":[
{"x":16.9,"z":36.4,"y":"39.8","u":-6.6,"v":-0.2},{"x":16.9,"z":36.4,"y":"22.0","u":2,"v":1.5},{"x":16.9,"z":36.4,"y":"4.2","u":-1.7,"v":1.2},{"x":16.9,"z":36.4,"y":"-13.5","u":-7,"v":1.1},{"x":16.9,"z":36.4,"y":"-31.2","u":-4.3,"v":-3.1},
{"x":23.2,"z":36.4,"y":"39.8","u":0.8,"v":-0.4},{"x":23.2,"z":36.4,"y":"22.0","u":6.3,"v":-1.2},{"x":23.2,"z":36.4,"y":"4.2","u":2.5,"v":-0.4},{"x":23.2,"z":36.4,"y":"-13.5","u":1.9,"v":4.1},{"x":23.2,"z":36.4,"y":"-31.2","u":-0.3,"v":-2.2},
{"x":32,"z":36.4,"y":"39.8","u":5.4,"v":-3.1},{"x":32,"z":36.4,"y":"22.0","u":1.7,"v":-0.8},{"x":32,"z":36.4,"y":"4.2","u":3.4,"v":-1.2},{"x":32,"z":36.4,"y":"-13.5","u":4.3,"v":-3.3},{"x":32,"z":36.4,"y":"-31.2","u":8.4,"v":-1.4},
{"x":40.9,"z":36.4,"y":"39.8","u":3,"v":2.7},{"x":40.9,"z":36.4,"y":"22.0","u":-2.5,"v":-2.1},{"x":40.9,"z":36.4,"y":"4.2","u":-3.6,"v":-2.5},{"x":40.9,"z":36.4,"y":"-13.5","u":-3.2,"v":4},{"x":40.9,"z":36.4,"y":"-31.2","u":-5.1,"v":-2.5},
{"x":49.8,"z":36.4,"y":"39.8","u":-3.8,"v":0},{"x":49.8,"z":36.4,"y":"22.0","u":-3.8,"v":4},{"x":49.8,"z":36.4,"y":"4.2","u":-1.7,"v":0.4},{"x":49.8,"z":36.4,"y":"-13.5","u":3.8,"v":1.2},{"x":49.8,"z":36.4,"y":"-31.2","u":5.1,"v":-3.9},
{"x":58.6,"z":36.4,"y":"39.8","u":-3.8,"v":-3.1},{"x":58.6,"z":36.4,"y":"22.0","u":-6.4,"v":1.7},{"x":58.6,"z":36.4,"y":"4.2","u":8.1,"v":-1.8},{"x":58.6,"z":36.4,"y":"-13.5","u":6.8,"v":3.6},{"x":58.6,"z":36.4,"y":"-31.2","u":5.1,"v":-1.2},
{"x":67.5,"z":36.4,"y":"39.8","u":6.4,"v":0.7},{"x":67.5,"z":36.4,"y":"22.0","u":1.7,"v":0.4},{"x":67.5,"z":36.4,"y":"4.2","u":-2.5,"v":-0.8},{"x":67.5,"z":36.4,"y":"-13.5","u":3.4,"v":0.4},{"x":67.5,"z":36.4,"y":"-31.2","u":-5.8,"v":1.1},
{"x":76.4,"z":36.4,"y":"39.8","u":-0.4,"v":-0.4},{"x":76.4,"z":36.4,"y":"22.0","u":0,"v":2.1},{"x":76.4,"z":36.4,"y":"4.2","u":-3.6,"v":1.5},{"x":76.4,"z":36.4,"y":"-13.5","u":7.1,"v":0},{"x":76.4,"z":36.4,"y":"-31.2","u":0.8,"v":0.8},
{"x":85.4,"z":36.4,"y":"39.8","u":-3.5,"v":0.7},{"x":85.4,"z":36.4,"y":"22.0","u":-1.7,"v":0.4},{"x":85.4,"z":36.4,"y":"4.2","u":1.7,"v":-0.8},{"x":85.4,"z":36.4,"y":"-13.5","u":3.8,"v":-1},{"x":85.4,"z":36.4,"y":"-31.2","u":0.8,"v":-0.4},
{"x":94.3,"z":36.4,"y":"39.8","u":2.8,"v":-3.9},{"x":94.3,"z":36.4,"y":"22.0","u":-1.3,"v":2.1},{"x":94.3,"z":36.4,"y":"4.2","u":-6.4,"v":-2.5},{"x":94.3,"z":36.4,"y":"-13.5","u":-2.5,"v":-0.8},{"x":94.3,"z":36.4,"y":"-31.2","u":0.8,"v":0.8},
{"x":16.9,"z":27.5,"y":"39.8","u":2.9,"v":-1.5},{"x":16.9,"z":27.5,"y":"22.0","u":-4.6,"v":4},{"x":16.9,"z":27.5,"y":"4.2","u":-0.8,"v":-0.8},{"x":16.9,"z":27.5,"y":"-13.5","u":-1.7,"v":0.8},{"x":16.9,"z":27.5,"y":"-31.2","u":5.9,"v":0},
{"x":23.2,"z":27.5,"y":"39.8","u":3,"v":0.8},{"x":23.2,"z":27.5,"y":"22.0","u":1.7,"v":-0.8},{"x":23.2,"z":27.5,"y":"4.2","u":3.4,"v":1},{"x":23.2,"z":27.5,"y":"-13.5","u":0.8,"v":0.4},{"x":23.2,"z":27.5,"y":"-31.2","u":-1.7,"v":1.4},
{"x":32,"z":27.5,"y":"39.8","u":-1.3,"v":1.4},{"x":32,"z":27.5,"y":"22.0","u":-0.2,"v":-1.2},{"x":32,"z":27.5,"y":"4.2","u":1.7,"v":2.6},{"x":32,"z":27.5,"y":"-13.5","u":2.6,"v":5.5},{"x":32,"z":27.5,"y":"-31.2","u":0.4,"v":0.8},
{"x":40.9,"z":27.5,"y":"39.8","u":3.7,"v":0.6},{"x":40.9,"z":27.5,"y":"22.0","u":5.4,"v":-1.5},{"x":40.9,"z":27.5,"y":"4.2","u":-5,"v":2.1},{"x":40.9,"z":27.5,"y":"-13.5","u":0.5,"v":4.7},{"x":40.9,"z":27.5,"y":"-31.2","u":1.7,"v":0.4},
{"x":49.8,"z":27.5,"y":"39.8","u":-3.8,"v":6.8},{"x":49.8,"z":27.5,"y":"22.0","u":-3.4,"v":0},{"x":49.8,"z":27.5,"y":"4.2","u":5.1,"v":4.3},{"x":49.8,"z":27.5,"y":"-13.5","u":1.7,"v":0.8},{"x":49.8,"z":27.5,"y":"-31.2","u":2.6,"v":2.5},
{"x":58.6,"z":27.5,"y":"39.8","u":-4.7,"v":1.6},{"x":58.6,"z":27.5,"y":"22.0","u":-0.8,"v":0},{"x":58.6,"z":27.5,"y":"4.2","u":-0.8,"v":0.4},{"x":58.6,"z":27.5,"y":"-13.5","u":0.8,"v":-0.4},{"x":58.6,"z":27.5,"y":"-31.2","u":4.7,"v":1},
{"x":67.5,"z":27.5,"y":"39.8","u":1.7,"v":0.8},{"x":67.5,"z":27.5,"y":"22.0","u":11.9,"v":2.6},{"x":67.5,"z":27.5,"y":"4.2","u":5.1,"v":-0.8},{"x":67.5,"z":27.5,"y":"-13.5","u":3.4,"v":0.4},{"x":67.5,"z":27.5,"y":"-31.2","u":-2.6,"v":-2.6},
{"x":76.4,"z":27.5,"y":"39.8","u":-3.6,"v":-0.4},{"x":76.4,"z":27.5,"y":"22.0","u":1.7,"v":0.4},{"x":76.4,"z":27.5,"y":"4.2","u":7.1,"v":-3.6},{"x":76.4,"z":27.5,"y":"-13.5","u":4.3,"v":0},{"x":76.4,"z":27.5,"y":"-31.2","u":8.8,"v":0.6},
{"x":85.4,"z":27.5,"y":"39.8","u":-5.2,"v":0.4},{"x":85.4,"z":27.5,"y":"22.0","u":-4.4,"v":3.9},{"x":85.4,"z":27.5,"y":"4.2","u":-1.7,"v":0.8},{"x":85.4,"z":27.5,"y":"-13.5","u":2.6,"v":3.5},{"x":85.4,"z":27.5,"y":"-31.2","u":2.9,"v":1},
{"x":94.3,"z":27.5,"y":"39.8","u":1.3,"v":3.2},{"x":94.3,"z":27.5,"y":"22.0","u":-1.3,"v":0.8},{"x":94.3,"z":27.5,"y":"4.2","u":-0.8,"v":-0.8},{"x":94.3,"z":27.5,"y":"-13.5","u":4.7,"v":-0.2},{"x":94.3,"z":27.5,"y":"-31.2","u":5.7,"v":4.7},
{"x":16.9,"z":18.5,"y":"39.8","u":4.5,"v":0.4},{"x":16.9,"z":18.5,"y":"22.0","u":1.7,"v":0.4},{"x":16.9,"z":18.5,"y":"4.2","u":-1.7,"v":0.8},{"x":16.9,"z":18.5,"y":"-13.5","u":-2.7,"v":4.5},{"x":16.9,"z":18.5,"y":"-31.2","u":-7.9,"v":1.9},
{"x":23.2,"z":18.5,"y":"39.8","u":-0.8,"v":-0.8},{"x":23.2,"z":18.5,"y":"22.0","u":0.4,"v":1.7},{"x":23.2,"z":18.5,"y":"4.2","u":9.8,"v":-4.1},{"x":23.2,"z":18.5,"y":"-13.5","u":5.6,"v":3.9},{"x":23.2,"z":18.5,"y":"-31.2","u":-0.2,"v":-2.1},
{"x":32,"z":18.5,"y":"39.8","u":0.4,"v":-0.4},{"x":32,"z":18.5,"y":"22.0","u":-0.8,"v":-0.4},{"x":32,"z":18.5,"y":"4.2","u":-7,"v":0.7},{"x":32,"z":18.5,"y":"-13.5","u":0.8,"v":0.4},{"x":32,"z":18.5,"y":"-31.2","u":8.8,"v":1.7},
{"x":40.9,"z":18.5,"y":"39.8","u":0.8,"v":-0.8},{"x":40.9,"z":18.5,"y":"22.0","u":3.7,"v":-2.9},{"x":40.9,"z":18.5,"y":"4.2","u":5.1,"v":1.2},{"x":40.9,"z":18.5,"y":"-13.5","u":-2.7,"v":-2.5},{"x":40.9,"z":18.5,"y":"-31.2","u":6.8,"v":-0.4},
{"x":49.8,"z":18.5,"y":"39.8","u":0,"v":4.7},{"x":49.8,"z":18.5,"y":"22.0","u":5,"v":2.7},{"x":49.8,"z":18.5,"y":"4.2","u":-2.6,"v":0.8},{"x":49.8,"z":18.5,"y":"-13.5","u":-1.7,"v":1.7},{"x":49.8,"z":18.5,"y":"-31.2","u":2.1,"v":-1.4},
{"x":58.6,"z":18.5,"y":"39.8","u":0.4,"v":-0.4},{"x":58.6,"z":18.5,"y":"22.0","u":0.8,"v":-0.8},{"x":58.6,"z":18.5,"y":"4.2","u":0.4,"v":3.3},{"x":58.6,"z":18.5,"y":"-13.5","u":-3,"v":1.4},{"x":58.6,"z":18.5,"y":"-31.2","u":1.3,"v":-1.2},
{"x":67.5,"z":18.5,"y":"39.8","u":-2.6,"v":2.1},{"x":67.5,"z":18.5,"y":"22.0","u":4,"v":0.4},{"x":67.5,"z":18.5,"y":"4.2","u":6.6,"v":-2.5},{"x":67.5,"z":18.5,"y":"-13.5","u":5.6,"v":1.7},{"x":67.5,"z":18.5,"y":"-31.2","u":1.7,"v":-0.4},
{"x":76.4,"z":18.5,"y":"39.8","u":-1,"v":-1.1},{"x":76.4,"z":18.5,"y":"22.0","u":5.8,"v":0.7},{"x":76.4,"z":18.5,"y":"4.2","u":2.4,"v":3.1},{"x":76.4,"z":18.5,"y":"-13.5","u":4.1,"v":-3.7},{"x":76.4,"z":18.5,"y":"-31.2","u":-0.8,"v":-0.8},
{"x":85.4,"z":18.5,"y":"39.8","u":3.8,"v":-3.3},{"x":85.4,"z":18.5,"y":"22.0","u":6.3,"v":2.5},{"x":85.4,"z":18.5,"y":"4.2","u":2.6,"v":0.8},{"x":85.4,"z":18.5,"y":"-13.5","u":1.7,"v":0.8},{"x":85.4,"z":18.5,"y":"-31.2","u":-2.8,"v":0.4},
{"x":94.3,"z":18.5,"y":"39.8","u":3.8,"v":-1.2},{"x":94.3,"z":18.5,"y":"22.0","u":6.4,"v":3.6},{"x":94.3,"z":18.5,"y":"4.2","u":-1.3,"v":-2.1},{"x":94.3,"z":18.5,"y":"-13.5","u":1.7,"v":0.4},{"x":94.3,"z":18.5,"y":"-31.2","u":5.7,"v":-3.7},
{"x":16.9,"z":9.6,"y":"39.8","u":5.9,"v":0.2},{"x":16.9,"z":9.6,"y":"22.0","u":3.4,"v":-0.8},{"x":16.9,"z":9.6,"y":"4.2","u":-2.6,"v":3.3},{"x":16.9,"z":9.6,"y":"-13.5","u":2.6,"v":-0.4},{"x":16.9,"z":9.6,"y":"-31.2","u":0.8,"v":0.8},
{"x":23.2,"z":9.6,"y":"39.8","u":-4.1,"v":5},{"x":23.2,"z":9.6,"y":"22.0","u":9,"v":2.9},{"x":23.2,"z":9.6,"y":"4.2","u":4.3,"v":0.8},{"x":23.2,"z":9.6,"y":"-13.5","u":2.6,"v":3.1},{"x":23.2,"z":9.6,"y":"-31.2","u":2.6,"v":-0.8},
{"x":32,"z":9.6,"y":"39.8","u":3.2,"v":5},{"x":32,"z":9.6,"y":"22.0","u":-3.4,"v":-0.8},{"x":32,"z":9.6,"y":"4.2","u":-1.7,"v":0.4},{"x":32,"z":9.6,"y":"-13.5","u":5.2,"v":-0.7},{"x":32,"z":9.6,"y":"-31.2","u":2.6,"v":-0.8},
{"x":40.9,"z":9.6,"y":"39.8","u":-3.6,"v":4.3},{"x":40.9,"z":9.6,"y":"22.0","u":1.7,"v":-1.7},{"x":40.9,"z":9.6,"y":"4.2","u":-2.6,"v":-0.8},{"x":40.9,"z":9.6,"y":"-13.5","u":6.2,"v":5.1},{"x":40.9,"z":9.6,"y":"-31.2","u":2,"v":2.6},
{"x":49.8,"z":9.6,"y":"39.8","u":3,"v":1.8},{"x":49.8,"z":9.6,"y":"22.0","u":15.4,"v":1},{"x":49.8,"z":9.6,"y":"4.2","u":-2.1,"v":4.7},{"x":49.8,"z":9.6,"y":"-13.5","u":-3.8,"v":0.6},{"x":49.8,"z":9.6,"y":"-31.2","u":7.3,"v":-2.7},
{"x":58.6,"z":9.6,"y":"39.8","u":-3,"v":3.1},{"x":58.6,"z":9.6,"y":"22.0","u":7.3,"v":1.4},{"x":58.6,"z":9.6,"y":"4.2","u":3.8,"v":-4.1},{"x":58.6,"z":9.6,"y":"-13.5","u":-4.3,"v":3.3},{"x":58.6,"z":9.6,"y":"-31.2","u":0.8,"v":-2.7},
{"x":67.5,"z":9.6,"y":"39.8","u":-0.8,"v":-0.4},{"x":67.5,"z":9.6,"y":"22.0","u":0.2,"v":-2.3},{"x":67.5,"z":9.6,"y":"4.2","u":0.8,"v":-0.8},{"x":67.5,"z":9.6,"y":"-13.5","u":4.9,"v":-0.7},{"x":67.5,"z":9.6,"y":"-31.2","u":-2.8,"v":1},
{"x":76.4,"z":9.6,"y":"39.8","u":-4,"v":-0.2},{"x":76.4,"z":9.6,"y":"22.0","u":1.7,"v":0.4},{"x":76.4,"z":9.6,"y":"4.2","u":-0.8,"v":0.4},{"x":76.4,"z":9.6,"y":"-13.5","u":-0.2,"v":4.3},{"x":76.4,"z":9.6,"y":"-31.2","u":5.4,"v":0.8},
{"x":85.4,"z":9.6,"y":"39.8","u":7.2,"v":0.3},{"x":85.4,"z":9.6,"y":"22.0","u":1.7,"v":0.4},{"x":85.4,"z":9.6,"y":"4.2","u":-1.7,"v":0.4},{"x":85.4,"z":9.6,"y":"-13.5","u":-3.3,"v":-2.3},{"x":85.4,"z":9.6,"y":"-31.2","u":8,"v":2.2},
{"x":94.3,"z":9.6,"y":"39.8","u":0.4,"v":0},{"x":94.3,"z":9.6,"y":"22.0","u":0.8,"v":-0.4},{"x":94.3,"z":9.6,"y":"4.2","u":6,"v":-2.3},{"x":94.3,"z":9.6,"y":"-13.5","u":7.3,"v":-0.7},{"x":94.3,"z":9.6,"y":"-31.2","u":1.3,"v":0},
{"x":16.9,"z":0.7,"y":"39.8","u":-3.1,"v":2.2},{"x":16.9,"z":0.7,"y":"22.0","u":2.9,"v":0.6},{"x":16.9,"z":0.7,"y":"4.2","u":-0.8,"v":-0.8},{"x":16.9,"z":0.7,"y":"-13.5","u":1.7,"v":-0.4},{"x":16.9,"z":0.7,"y":"-31.2","u":1.3,"v":0.8},
{"x":23.2,"z":0.7,"y":"39.8","u":-5.1,"v":0.3},{"x":23.2,"z":0.7,"y":"22.0","u":-2.6,"v":-0.4},{"x":23.2,"z":0.7,"y":"4.2","u":1.7,"v":-0.4},{"x":23.2,"z":0.7,"y":"-13.5","u":7.7,"v":-0.2},{"x":23.2,"z":0.7,"y":"-31.2","u":2.6,"v":2.2},
{"x":32,"z":0.7,"y":"39.8","u":5.1,"v":-0.8},{"x":32,"z":0.7,"y":"22.0","u":0.8,"v":-0.4},{"x":32,"z":0.7,"y":"4.2","u":1.8,"v":-2.5},{"x":32,"z":0.7,"y":"-13.5","u":-9.3,"v":3.9},{"x":32,"z":0.7,"y":"-31.2","u":-2.6,"v":-0.8},
{"x":40.9,"z":0.7,"y":"39.8","u":6.7,"v":1.8},{"x":40.9,"z":0.7,"y":"22.0","u":-3.2,"v":-0.7},{"x":40.9,"z":0.7,"y":"4.2","u":-1.7,"v":0.8},{"x":40.9,"z":0.7,"y":"-13.5","u":0.8,"v":0.4},{"x":40.9,"z":0.7,"y":"-31.2","u":5.8,"v":0.6},
{"x":49.8,"z":0.7,"y":"39.8","u":2.6,"v":0.4},{"x":49.8,"z":0.7,"y":"22.0","u":-2.6,"v":0.2},{"x":49.8,"z":0.7,"y":"4.2","u":-0.8,"v":-0.4},{"x":49.8,"z":0.7,"y":"-13.5","u":6.4,"v":1},{"x":49.8,"z":0.7,"y":"-31.2","u":1.7,"v":0.8},
{"x":58.6,"z":0.7,"y":"39.8","u":5.1,"v":-2.7},{"x":58.6,"z":0.7,"y":"22.0","u":-2.6,"v":2},{"x":58.6,"z":0.7,"y":"4.2","u":2.6,"v":1.2},{"x":58.6,"z":0.7,"y":"-13.5","u":-1.7,"v":0.8},{"x":58.6,"z":0.7,"y":"-31.2","u":-1.7,"v":-2.7},
{"x":67.5,"z":0.7,"y":"39.8","u":2.1,"v":3.9},{"x":67.5,"z":0.7,"y":"22.0","u":5.6,"v":-2.7},{"x":67.5,"z":0.7,"y":"4.2","u":-3.4,"v":0.8},{"x":67.5,"z":0.7,"y":"-13.5","u":-5.6,"v":1.8},{"x":67.5,"z":0.7,"y":"-31.2","u":-3.4,"v":2.6},
{"x":76.4,"z":0.7,"y":"39.8","u":-0.8,"v":0},{"x":76.4,"z":0.7,"y":"22.0","u":2.6,"v":1.2},{"x":76.4,"z":0.7,"y":"4.2","u":3.4,"v":0.8},{"x":76.4,"z":0.7,"y":"-13.5","u":1.1,"v":-2.7},{"x":76.4,"z":0.7,"y":"-31.2","u":4.1,"v":2.2},
{"x":85.4,"z":0.7,"y":"39.8","u":2.9,"v":1.4},{"x":85.4,"z":0.7,"y":"22.0","u":0.8,"v":0.4},{"x":85.4,"z":0.7,"y":"4.2","u":-3.4,"v":0.8},{"x":85.4,"z":0.7,"y":"-13.5","u":-5.2,"v":2.2},{"x":85.4,"z":0.7,"y":"-31.2","u":-4.3,"v":1.7},
{"x":94.3,"z":0.7,"y":"39.8","u":3,"v":3.6},{"x":94.3,"z":0.7,"y":"22.0","u":-1.3,"v":2.2},{"x":94.3,"z":0.7,"y":"4.2","u":-1.7,"v":0.4},{"x":94.3,"z":0.7,"y":"-13.5","u":-5.1,"v":2.6},{"x":94.3,"z":0.7,"y":"-31.2","u":7.7,"v":1.8},
{"x":16.9,"z":-8.3,"y":"39.8","u":2.9,"v":2.5},{"x":16.9,"z":-8.3,"y":"22.0","u":-0.9,"v":1.8},{"x":16.9,"z":-8.3,"y":"4.2","u":4.7,"v":0.4},{"x":16.9,"z":-8.3,"y":"-13.5","u":3.4,"v":-0.4},{"x":16.9,"z":-8.3,"y":"-31.2","u":4.2,"v":-0.7},
{"x":23.2,"z":-8.3,"y":"39.8","u":10.3,"v":-0.5},{"x":23.2,"z":-8.3,"y":"22.0","u":2.6,"v":-0.4},{"x":23.2,"z":-8.3,"y":"4.2","u":6.8,"v":0.8},{"x":23.2,"z":-8.3,"y":"-13.5","u":11.8,"v":1.8},{"x":23.2,"z":-8.3,"y":"-31.2","u":9.4,"v":1},
{"x":32,"z":-8.3,"y":"39.8","u":0.8,"v":-0.4},{"x":32,"z":-8.3,"y":"22.0","u":-0.8,"v":-0.8},{"x":32,"z":-8.3,"y":"4.2","u":0.4,"v":1.7},{"x":32,"z":-8.3,"y":"-13.5","u":-6.3,"v":2.2},{"x":32,"z":-8.3,"y":"-31.2","u":-2.6,"v":1.7},
{"x":40.9,"z":-8.3,"y":"39.8","u":-2.5,"v":0.3},{"x":40.9,"z":-8.3,"y":"22.0","u":0.7,"v":2.5},{"x":40.9,"z":-8.3,"y":"4.2","u":2.6,"v":0},{"x":40.9,"z":-8.3,"y":"-13.5","u":1.7,"v":-0.4},{"x":40.9,"z":-8.3,"y":"-31.2","u":-0.8,"v":-0.4},
{"x":49.8,"z":-8.3,"y":"39.8","u":-3.8,"v":1.5},{"x":49.8,"z":-8.3,"y":"22.0","u":9,"v":2.3},{"x":49.8,"z":-8.3,"y":"4.2","u":1.7,"v":-0.8},{"x":49.8,"z":-8.3,"y":"-13.5","u":5.1,"v":-0.4},{"x":49.8,"z":-8.3,"y":"-31.2","u":7.3,"v":-2.9},
{"x":58.6,"z":-8.3,"y":"39.8","u":-0.8,"v":-0.4},{"x":58.6,"z":-8.3,"y":"22.0","u":-2.6,"v":-0.8},{"x":58.6,"z":-8.3,"y":"4.2","u":2.6,"v":1.7},{"x":58.6,"z":-8.3,"y":"-13.5","u":3.8,"v":3.5},{"x":58.6,"z":-8.3,"y":"-31.2","u":1.7,"v":-1.2},
{"x":67.5,"z":-8.3,"y":"39.8","u":5.1,"v":-1.2},{"x":67.5,"z":-8.3,"y":"22.0","u":1.3,"v":2.6},{"x":67.5,"z":-8.3,"y":"4.2","u":-4.3,"v":2.5},{"x":67.5,"z":-8.3,"y":"-13.5","u":2.6,"v":-0.8},{"x":67.5,"z":-8.3,"y":"-31.2","u":5.1,"v":1.2},
{"x":76.4,"z":-8.3,"y":"39.8","u":-0.8,"v":0},{"x":76.4,"z":-8.3,"y":"22.0","u":1.7,"v":0.8},{"x":76.4,"z":-8.3,"y":"4.2","u":13.9,"v":-1.7},{"x":76.4,"z":-8.3,"y":"-13.5","u":6.8,"v":1.2},{"x":76.4,"z":-8.3,"y":"-31.2","u":1.5,"v":-2.5},
{"x":85.4,"z":-8.3,"y":"39.8","u":5.9,"v":6.2},{"x":85.4,"z":-8.3,"y":"22.0","u":-1.8,"v":-3.3},{"x":85.4,"z":-8.3,"y":"4.2","u":-2.6,"v":1.5},{"x":85.4,"z":-8.3,"y":"-13.5","u":-0.8,"v":-0.4},{"x":85.4,"z":-8.3,"y":"-31.2","u":-1.7,"v":0.8},
{"x":94.3,"z":-8.3,"y":"39.8","u":0,"v":3.7},{"x":94.3,"z":-8.3,"y":"22.0","u":-0.4,"v":1.7},{"x":94.3,"z":-8.3,"y":"4.2","u":-0.8,"v":-0.4},{"x":94.3,"z":-8.3,"y":"-13.5","u":-2.6,"v":-0.8},{"x":94.3,"z":-8.3,"y":"-31.2","u":0.6,"v":6.4},
{"x":16.9,"z":-17.2,"y":"39.8","u":3.1,"v":-1.8},{"x":16.9,"z":-17.2,"y":"22.0","u":-0.8,"v":0.8},{"x":16.9,"z":-17.2,"y":"4.2","u":-2.2,"v":-1.2},{"x":16.9,"z":-17.2,"y":"-13.5","u":-0.1,"v":5.4},{"x":16.9,"z":-17.2,"y":"-31.2","u":1.7,"v":-0.8},
{"x":23.2,"z":-17.2,"y":"39.8","u":0.8,"v":-0.8},{"x":23.2,"z":-17.2,"y":"22.0","u":0.3,"v":3.5},{"x":23.2,"z":-17.2,"y":"4.2","u":1.7,"v":-0.8},{"x":23.2,"z":-17.2,"y":"-13.5","u":-5.6,"v":1.7},{"x":23.2,"z":-17.2,"y":"-31.2","u":3,"v":-1.5},
{"x":32,"z":-17.2,"y":"39.8","u":0.4,"v":-1.2},{"x":32,"z":-17.2,"y":"22.0","u":-8.5,"v":-3.7},{"x":32,"z":-17.2,"y":"4.2","u":-4.3,"v":-2.1},{"x":32,"z":-17.2,"y":"-13.5","u":6.1,"v":-1.2},{"x":32,"z":-17.2,"y":"-31.2","u":-2.9,"v":2.1},
{"x":40.9,"z":-17.2,"y":"39.8","u":2.8,"v":1.8},{"x":40.9,"z":-17.2,"y":"22.0","u":3.7,"v":-2.5},{"x":40.9,"z":-17.2,"y":"4.2","u":-1.9,"v":1.8},{"x":40.9,"z":-17.2,"y":"-13.5","u":1.7,"v":-0.4},{"x":40.9,"z":-17.2,"y":"-31.2","u":-2.7,"v":0},
{"x":49.8,"z":-17.2,"y":"39.8","u":-3.8,"v":3.6},{"x":49.8,"z":-17.2,"y":"22.0","u":-3.4,"v":0.2},{"x":49.8,"z":-17.2,"y":"4.2","u":-1.7,"v":-0.4},{"x":49.8,"z":-17.2,"y":"-13.5","u":4.3,"v":1.1},{"x":49.8,"z":-17.2,"y":"-31.2","u":1.7,"v":3.1},
{"x":58.6,"z":-17.2,"y":"39.8","u":10.3,"v":1.9},{"x":58.6,"z":-17.2,"y":"22.0","u":5.1,"v":1.2},{"x":58.6,"z":-17.2,"y":"4.2","u":11.5,"v":-1},{"x":58.6,"z":-17.2,"y":"-13.5","u":6.8,"v":0},{"x":58.6,"z":-17.2,"y":"-31.2","u":-1,"v":-2},
{"x":67.5,"z":-17.2,"y":"39.8","u":0.8,"v":-0.4},{"x":67.5,"z":-17.2,"y":"22.0","u":-3.8,"v":2.3},{"x":67.5,"z":-17.2,"y":"4.2","u":11.5,"v":-1.4},{"x":67.5,"z":-17.2,"y":"-13.5","u":3.4,"v":0.8},{"x":67.5,"z":-17.2,"y":"-31.2","u":1.7,"v":0.4},
{"x":76.4,"z":-17.2,"y":"39.8","u":-1.5,"v":-3.3},{"x":76.4,"z":-17.2,"y":"22.0","u":0.4,"v":0.8},{"x":76.4,"z":-17.2,"y":"4.2","u":1.3,"v":-0.8},{"x":76.4,"z":-17.2,"y":"-13.5","u":1.7,"v":0.4},{"x":76.4,"z":-17.2,"y":"-31.2","u":-0.8,"v":0.4},
{"x":85.4,"z":-17.2,"y":"39.8","u":0.8,"v":-0.8},{"x":85.4,"z":-17.2,"y":"22.0","u":-6.5,"v":0.2},{"x":85.4,"z":-17.2,"y":"4.2","u":5.9,"v":-2.2},{"x":85.4,"z":-17.2,"y":"-13.5","u":3.4,"v":-0.4},{"x":85.4,"z":-17.2,"y":"-31.2","u":0.3,"v":3},
{"x":94.3,"z":-17.2,"y":"39.8","u":-4.7,"v":-0.6},{"x":94.3,"z":-17.2,"y":"22.0","u":4.9,"v":-3.5},{"x":94.3,"z":-17.2,"y":"4.2","u":4.3,"v":-0.4},{"x":94.3,"z":-17.2,"y":"-13.5","u":2.6,"v":-0.4},{"x":94.3,"z":-17.2,"y":"-31.2","u":9.8,"v":1.3},
{"x":16.9,"z":-26.1,"y":"39.8","u":-13.2,"v":-2.5},{"x":16.9,"z":-26.1,"y":"22.0","u":-1.8,"v":1.7},{"x":16.9,"z":-26.1,"y":"4.2","u":3.6,"v":2.9},{"x":16.9,"z":-26.1,"y":"-13.5","u":1.7,"v":1.7},{"x":16.9,"z":-26.1,"y":"-31.2","u":2.9,"v":-6.9},
{"x":23.2,"z":-26.1,"y":"39.8","u":4.3,"v":1.8},{"x":23.2,"z":-26.1,"y":"22.0","u":3.4,"v":-0.4},{"x":23.2,"z":-26.1,"y":"4.2","u":6.8,"v":-1.4},{"x":23.2,"z":-26.1,"y":"-13.5","u":3.4,"v":-2.5},{"x":23.2,"z":-26.1,"y":"-31.2","u":0.8,"v":-0.8},
{"x":32,"z":-26.1,"y":"39.8","u":0.5,"v":7.2},{"x":32,"z":-26.1,"y":"22.0","u":1.7,"v":-0.4},{"x":32,"z":-26.1,"y":"4.2","u":0.8,"v":-0.8},{"x":32,"z":-26.1,"y":"-13.5","u":4.6,"v":-0.7},{"x":32,"z":-26.1,"y":"-31.2","u":0.4,"v":0.8},
{"x":40.9,"z":-26.1,"y":"39.8","u":-4.9,"v":1.9},{"x":40.9,"z":-26.1,"y":"22.0","u":-3.6,"v":2.5},{"x":40.9,"z":-26.1,"y":"4.2","u":6.2,"v":-2.1},{"x":40.9,"z":-26.1,"y":"-13.5","u":4.3,"v":-0.8},{"x":40.9,"z":-26.1,"y":"-31.2","u":1.7,"v":-0.4},
{"x":49.8,"z":-26.1,"y":"39.8","u":0.3,"v":3.9},{"x":49.8,"z":-26.1,"y":"22.0","u":-3,"v":3.3},{"x":49.8,"z":-26.1,"y":"4.2","u":-3.4,"v":-1.2},{"x":49.8,"z":-26.1,"y":"-13.5","u":7.3,"v":-2.5},{"x":49.8,"z":-26.1,"y":"-31.2","u":8.1,"v":0.6},
{"x":58.6,"z":-26.1,"y":"39.8","u":3,"v":1.2},{"x":58.6,"z":-26.1,"y":"22.0","u":-5.1,"v":2.1},{"x":58.6,"z":-26.1,"y":"4.2","u":6.4,"v":0.4},{"x":58.6,"z":-26.1,"y":"-13.5","u":-1.7,"v":-0.8},{"x":58.6,"z":-26.1,"y":"-31.2","u":-1.7,"v":0.4},
{"x":67.5,"z":-26.1,"y":"39.8","u":3.8,"v":-1.7},{"x":67.5,"z":-26.1,"y":"22.0","u":8.5,"v":0.4},{"x":67.5,"z":-26.1,"y":"4.2","u":1.7,"v":0.4},{"x":67.5,"z":-26.1,"y":"-13.5","u":0.8,"v":0.4},{"x":67.5,"z":-26.1,"y":"-31.2","u":4.3,"v":-1.2},
{"x":76.4,"z":-26.1,"y":"39.8","u":-0.8,"v":-0.4},{"x":76.4,"z":-26.1,"y":"22.0","u":-2.6,"v":0},{"x":76.4,"z":-26.1,"y":"4.2","u":1.3,"v":0.4},{"x":76.4,"z":-26.1,"y":"-13.5","u":0.7,"v":-1.4},{"x":76.4,"z":-26.1,"y":"-31.2","u":-0.8,"v":0.4},
{"x":85.4,"z":-26.1,"y":"39.8","u":-2.2,"v":-1.9},{"x":85.4,"z":-26.1,"y":"22.0","u":4.6,"v":3.9},{"x":85.4,"z":-26.1,"y":"4.2","u":1.7,"v":1.7},{"x":85.4,"z":-26.1,"y":"-13.5","u":2.5,"v":3.3},{"x":85.4,"z":-26.1,"y":"-31.2","u":-0.1,"v":3.1},
{"x":94.3,"z":-26.1,"y":"39.8","u":7.7,"v":1.7},{"x":94.3,"z":-26.1,"y":"22.0","u":8.5,"v":1.9},{"x":94.3,"z":-26.1,"y":"4.2","u":-1.7,"v":1.1},{"x":94.3,"z":-26.1,"y":"-13.5","u":-2.6,"v":-5},{"x":94.3,"z":-26.1,"y":"-31.2","u":9.8,"v":-1.2},
{"x":16.9,"z":-35,"y":"39.8","u":0.8,"v":-0.4},{"x":16.9,"z":-35,"y":"22.0","u":1.7,"v":0.4},{"x":16.9,"z":-35,"y":"4.2","u":-6.9,"v":1.9},{"x":16.9,"z":-35,"y":"-13.5","u":6.3,"v":0.2},{"x":16.9,"z":-35,"y":"-31.2","u":3.8,"v":-1.8},
{"x":23.2,"z":-35,"y":"39.8","u":0.8,"v":0.4},{"x":23.2,"z":-35,"y":"22.0","u":8.5,"v":0.4},{"x":23.2,"z":-35,"y":"4.2","u":-1.3,"v":2.3},{"x":23.2,"z":-35,"y":"-13.5","u":2.6,"v":-0.4},{"x":23.2,"z":-35,"y":"-31.2","u":0,"v":-1.4},
{"x":32,"z":-35,"y":"39.8","u":-1.4,"v":-1.6},{"x":32,"z":-35,"y":"22.0","u":-9.7,"v":4},{"x":32,"z":-35,"y":"4.2","u":4.4,"v":0},{"x":32,"z":-35,"y":"-13.5","u":1.7,"v":0},{"x":32,"z":-35,"y":"-31.2","u":-1.7,"v":0.4},
{"x":40.9,"z":-35,"y":"39.8","u":0.7,"v":-1.8},{"x":40.9,"z":-35,"y":"22.0","u":0.8,"v":-0.8},{"x":40.9,"z":-35,"y":"4.2","u":-2.5,"v":2.1},{"x":40.9,"z":-35,"y":"-13.5","u":6.7,"v":-0.4},{"x":40.9,"z":-35,"y":"-31.2","u":-5.7,"v":-4},
{"x":49.8,"z":-35,"y":"39.8","u":-2.6,"v":0.2},{"x":49.8,"z":-35,"y":"22.0","u":3.4,"v":6.4},{"x":49.8,"z":-35,"y":"4.2","u":-2.6,"v":-0.4},{"x":49.8,"z":-35,"y":"-13.5","u":-3.8,"v":-0.7},{"x":49.8,"z":-35,"y":"-31.2","u":6.8,"v":3.3},
{"x":58.6,"z":-35,"y":"39.8","u":0.8,"v":0},{"x":58.6,"z":-35,"y":"22.0","u":-5.3,"v":-2.1},{"x":58.6,"z":-35,"y":"4.2","u":5.6,"v":2.5},{"x":58.6,"z":-35,"y":"-13.5","u":6,"v":0.6},{"x":58.6,"z":-35,"y":"-31.2","u":2.6,"v":0.8},
{"x":67.5,"z":-35,"y":"39.8","u":8.1,"v":2.2},{"x":67.5,"z":-35,"y":"22.0","u":0,"v":-2.7},{"x":67.5,"z":-35,"y":"4.2","u":5.1,"v":0.4},{"x":67.5,"z":-35,"y":"-13.5","u":1.7,"v":-3.6},{"x":67.5,"z":-35,"y":"-31.2","u":1.7,"v":0.4},
{"x":76.4,"z":-35,"y":"39.8","u":3.4,"v":0.4},{"x":76.4,"z":-35,"y":"22.0","u":6.7,"v":1},{"x":76.4,"z":-35,"y":"4.2","u":0.8,"v":0.4},{"x":76.4,"z":-35,"y":"-13.5","u":-1.7,"v":-0.4},{"x":76.4,"z":-35,"y":"-31.2","u":2.6,"v":0.4},
{"x":85.4,"z":-35,"y":"39.8","u":2.5,"v":-1.5},{"x":85.4,"z":-35,"y":"22.0","u":3.4,"v":0},{"x":85.4,"z":-35,"y":"4.2","u":-2.6,"v":2.6},{"x":85.4,"z":-35,"y":"-13.5","u":7.2,"v":-0.7},{"x":85.4,"z":-35,"y":"-31.2","u":-0.8,"v":-0.4},
{"x":94.3,"z":-35,"y":"39.8","u":9.8,"v":0},{"x":94.3,"z":-35,"y":"22.0","u":0.8,"v":-0.4},{"x":94.3,"z":-35,"y":"4.2","u":-2.6,"v":-0.4},{"x":94.3,"z":-35,"y":"-13.5","u":-3.8,"v":1},{"x":94.3,"z":-35,"y":"-31.2","u":-1.7,"v":0},
{"x":16.9,"z":-43.8,"y":"39.8","u":4.4,"v":3.5},{"x":16.9,"z":-43.8,"y":"22.0","u":5.9,"v":0.2},{"x":16.9,"z":-43.8,"y":"4.2","u":3.4,"v":-0.4},{"x":16.9,"z":-43.8,"y":"-13.5","u":-3.1,"v":-0.8},{"x":16.9,"z":-43.8,"y":"-31.2","u":2.9,"v":2.6},
{"x":23.2,"z":-43.8,"y":"39.8","u":2.6,"v":1.8},{"x":23.2,"z":-43.8,"y":"22.0","u":6,"v":0.4},{"x":23.2,"z":-43.8,"y":"4.2","u":5.1,"v":-2.7},{"x":23.2,"z":-43.8,"y":"-13.5","u":3.4,"v":3.1},{"x":23.2,"z":-43.8,"y":"-31.2","u":1.7,"v":0.8},
{"x":32,"z":-43.8,"y":"39.8","u":0.8,"v":-0.4},{"x":32,"z":-43.8,"y":"22.0","u":8.2,"v":0.6},{"x":32,"z":-43.8,"y":"4.2","u":-4.6,"v":0.2},{"x":32,"z":-43.8,"y":"-13.5","u":-4.2,"v":5.9},{"x":32,"z":-43.8,"y":"-31.2","u":1.7,"v":2.5},
{"x":40.9,"z":-43.8,"y":"39.8","u":-5.3,"v":2.6},{"x":40.9,"z":-43.8,"y":"22.0","u":0.1,"v":3.1},{"x":40.9,"z":-43.8,"y":"4.2","u":-3.4,"v":0.8},{"x":40.9,"z":-43.8,"y":"-13.5","u":-1.7,"v":-0.4},{"x":40.9,"z":-43.8,"y":"-31.2","u":-8.3,"v":2.8},
{"x":49.8,"z":-43.8,"y":"39.8","u":4,"v":4.1},{"x":49.8,"z":-43.8,"y":"22.0","u":9,"v":-3.8},{"x":49.8,"z":-43.8,"y":"4.2","u":0.8,"v":1.7},{"x":49.8,"z":-43.8,"y":"-13.5","u":8.1,"v":-1.9},{"x":49.8,"z":-43.8,"y":"-31.2","u":2.6,"v":-0.8},
{"x":58.6,"z":-43.8,"y":"39.8","u":-0.8,"v":-0.4},{"x":58.6,"z":-43.8,"y":"22.0","u":1.3,"v":2.6},{"x":58.6,"z":-43.8,"y":"4.2","u":-2.6,"v":1.8},{"x":58.6,"z":-43.8,"y":"-13.5","u":-3.4,"v":-0.8},{"x":58.6,"z":-43.8,"y":"-31.2","u":0.8,"v":0.8},
{"x":67.5,"z":-43.8,"y":"39.8","u":-4.3,"v":4.3},{"x":67.5,"z":-43.8,"y":"22.0","u":-1.7,"v":0.8},{"x":67.5,"z":-43.8,"y":"4.2","u":6,"v":-1.1},{"x":67.5,"z":-43.8,"y":"-13.5","u":-2.6,"v":0.8},{"x":67.5,"z":-43.8,"y":"-31.2","u":-5.1,"v":2.2},
{"x":76.4,"z":-43.8,"y":"39.8","u":-4.9,"v":3.2},{"x":76.4,"z":-43.8,"y":"22.0","u":-0.2,"v":3.1},{"x":76.4,"z":-43.8,"y":"4.2","u":0.8,"v":-0.8},{"x":76.4,"z":-43.8,"y":"-13.5","u":3.7,"v":-1.1},{"x":76.4,"z":-43.8,"y":"-31.2","u":-0.8,"v":-0.4},
{"x":85.4,"z":-43.8,"y":"39.8","u":2.9,"v":0.2},{"x":85.4,"z":-43.8,"y":"22.0","u":0.8,"v":0.4},{"x":85.4,"z":-43.8,"y":"4.2","u":0.1,"v":3.9},{"x":85.4,"z":-43.8,"y":"-13.5","u":-4.4,"v":1.8},{"x":85.4,"z":-43.8,"y":"-31.2","u":-0.8,"v":-0.4},
{"x":94.3,"z":-43.8,"y":"39.8","u":0.4,"v":0.4},{"x":94.3,"z":-43.8,"y":"22.0","u":-0.4,"v":0.4},{"x":94.3,"z":-43.8,"y":"4.2","u":0,"v":2.1},{"x":94.3,"z":-43.8,"y":"-13.5","u":3.4,"v":-0.7},{"x":94.3,"z":-43.8,"y":"-31.2","u":-1.7,"v":-1.9}
]},
"vconcat":[
{"width":442,"height":359,
"encoding":{
"x":{"field":"x","type":"quantitative","scale":{"domain":[-10,103.7],"nice":false,"zero":false},"axis":{"title":"x [μm]","values":[0,20,40,60,80,100],"labelExpr":"replace(datum.label,'-','−')","labelPadding":6,"titlePadding":8}},
"y":{"field":"z","type":"quantitative","scale":{"domain":[-48,40.8],"nice":false,"zero":false},"axis":{"title":"z [μm]","values":[-40,-30,-20,-10,0,10,20,30,40],"labelExpr":"replace(datum.label,'-','−')","labelPadding":8,"titlePadding":12}}},
"layer":[
{"data":{"name":"acsb"},"mark":{"type":"rect","fill":"transparent","stroke":"black","strokeWidth":1.2},"encoding":{"x2":{"field":"x2"},"y2":{"field":"z2"}}},
{"data":{"name":"acsbt"},"mark":{"type":"text","fontSize":14,"font":"DejaVu Sans","color":"black","baseline":"alphabetic","align":"center"},"encoding":{"text":{"field":"t"}}},
{"data":{"name":"acsba"},"mark":{"type":"rule","color":"black","strokeWidth":6.5},"encoding":{"y2":{"field":"z2"}}},
{"data":{"name":"acsba"},"transform":[{"calculate":"datum.z2","as":"z"}],"mark":{"type":"point","shape":"M-1,0L1,0L0,1.9Z","size":335,"filled":true,"color":"black","opacity":1},"encoding":{}},
{"data":{"name":"top"},
"transform":[{"calculate":"datum.u*3.887","as":"px"},{"calculate":"datum.v*4.043","as":"py"},{"calculate":"sqrt(datum.px*datum.px+datum.py*datum.py)","as":"L"},{"calculate":"min(datum.L,8)","as":"hl"},{"calculate":"atan2(datum.px,datum.py)*180/PI","as":"ang"},{"calculate":"4*datum.hl*datum.hl","as":"hs"},{"calculate":"datum.L>0?max(0,1-0.85*datum.hl/datum.L):0","as":"f"},{"calculate":"datum.x+datum.u*datum.f","as":"xs"},{"calculate":"datum.z+datum.v*datum.f","as":"zs"},{"calculate":"toNumber(datum.y)","as":"yn"}],
"encoding":{"color":{"field":"y","type":"nominal","scale":{"domain":["-31.2","-13.5","4.2","22.0","39.8"],"range":["#fca50a","#dd513a","#932667","#420a68","#000004"]},"legend":{"title":null,"orient":"none","legendX":452,"legendY":112,"symbolType":"M-3,-1L3,-1L3,1L-3,1Z","symbolSize":144,"symbolOffset":12,"labelOffset":24,"labelFontSize":17,"labelFont":"DejaVu Sans","labelColor":"black","rowPadding":9,"padding":6,"strokeColor":"#cccccc","cornerRadius":4,"fillColor":"white","symbolStrokeWidth":0,"symbolOpacity":1}},"order":{"field":"yn","type":"quantitative"}},
"layer":[
{"mark":{"type":"rule","strokeWidth":2,"clip":true},"encoding":{"x2":{"field":"xs"},"y2":{"field":"zs"}}},
{"transform":[{"calculate":"datum.x+datum.u","as":"x"},{"calculate":"datum.z+datum.v","as":"z"}],"mark":{"type":"point","shape":"M0,0L0.45,1L0.15,0.9L-0.15,0.9L-0.45,1Z","filled":true,"opacity":1,"clip":true},"encoding":{"angle":{"field":"ang","type":"quantitative","scale":null},"size":{"field":"hs","type":"quantitative","scale":null}}}
]},
{"data":{"name":"top"},"mark":{"type":"point","shape":"circle","filled":true,"fill":"white","stroke":"black","strokeWidth":1.2,"size":22,"opacity":1,"clip":true},"encoding":{}},
{"data":{"name":"ylab"},"mark":{"type":"text","fontSize":18,"font":"DejaVu Sans","color":"black","baseline":"middle","align":"center"},"encoding":{"text":{"field":"t"}}},
{"data":{"name":"noise"},"mark":{"type":"text","fontSize":19.5,"font":"DejaVu Sans","color":"black","baseline":"alphabetic","align":"center"},"encoding":{"text":{"field":"t"}}},
{"data":{"name":"key"},"transform":[{"calculate":"datum.x+datum.u-1.7","as":"xs"}],"mark":{"type":"rule","color":"black","strokeWidth":1.6},"encoding":{"x2":{"field":"xs"}}},
{"data":{"name":"key"},"transform":[{"calculate":"datum.x+datum.u","as":"x"}],"mark":{"type":"point","shape":"M0,0L0.3,1L0.1,0.9L-0.1,0.9L-0.3,1Z","angle":90,"size":256,"filled":true,"color":"black","opacity":1},"encoding":{}}
]},
{"width":442,"height":359,
"encoding":{
"x":{"field":"x","type":"quantitative","scale":{"domain":[-10,103.7],"nice":false,"zero":false},"axis":{"title":"x [μm]","values":[0,20,40,60,80,100],"labelExpr":"replace(datum.label,'-','−')","labelPadding":6,"titlePadding":8}},
"y":{"field":"z","type":"quantitative","scale":{"domain":[-48,40.8],"nice":false,"zero":false},"axis":{"title":"z [μm]","values":[-40,-30,-20,-10,0,10,20,30,40],"labelExpr":"replace(datum.label,'-','−')","labelPadding":8,"titlePadding":12}}},
"layer":[
{"data":{"name":"acsb"},"mark":{"type":"rect","fill":"transparent","stroke":"black","strokeWidth":1.2},"encoding":{"x2":{"field":"x2"},"y2":{"field":"z2"}}},
{"data":{"name":"acsbt"},"mark":{"type":"text","fontSize":14,"font":"DejaVu Sans","color":"black","baseline":"alphabetic","align":"center"},"encoding":{"text":{"field":"t"}}},
{"data":{"name":"acsba"},"mark":{"type":"rule","color":"black","strokeWidth":6.5},"encoding":{"y2":{"field":"z2"}}},
{"data":{"name":"acsba"},"transform":[{"calculate":"datum.z2","as":"z"}],"mark":{"type":"point","shape":"M-1,0L1,0L0,1.9Z","size":335,"filled":true,"color":"black","opacity":1},"encoding":{}},
{"data":{"name":"bottom"},
"transform":[{"calculate":"datum.u*3.887","as":"px"},{"calculate":"datum.v*4.043","as":"py"},{"calculate":"sqrt(datum.px*datum.px+datum.py*datum.py)","as":"L"},{"calculate":"min(datum.L,8)","as":"hl"},{"calculate":"atan2(datum.px,datum.py)*180/PI","as":"ang"},{"calculate":"4*datum.hl*datum.hl","as":"hs"},{"calculate":"datum.L>0?max(0,1-0.85*datum.hl/datum.L):0","as":"f"},{"calculate":"datum.x+datum.u*datum.f","as":"xs"},{"calculate":"datum.z+datum.v*datum.f","as":"zs"},{"calculate":"toNumber(datum.y)","as":"yn"}],
"encoding":{"color":{"field":"y","type":"nominal","scale":{"domain":["-31.2","-13.5","4.2","22.0","39.8"],"range":["#fca50a","#dd513a","#932667","#420a68","#000004"]},"legend":{"title":null,"orient":"none","legendX":452,"legendY":112,"symbolType":"M-3,-1L3,-1L3,1L-3,1Z","symbolSize":144,"symbolOffset":12,"labelOffset":24,"labelFontSize":17,"labelFont":"DejaVu Sans","labelColor":"black","rowPadding":9,"padding":6,"strokeColor":"#cccccc","cornerRadius":4,"fillColor":"white","symbolStrokeWidth":0,"symbolOpacity":1}},"order":{"field":"yn","type":"quantitative"}},
"layer":[
{"mark":{"type":"rule","strokeWidth":2,"clip":true},"encoding":{"x2":{"field":"xs"},"y2":{"field":"zs"}}},
{"transform":[{"calculate":"datum.x+datum.u","as":"x"},{"calculate":"datum.z+datum.v","as":"z"}],"mark":{"type":"point","shape":"M0,0L0.45,1L0.15,0.9L-0.15,0.9L-0.45,1Z","filled":true,"opacity":1,"clip":true},"encoding":{"angle":{"field":"ang","type":"quantitative","scale":null},"size":{"field":"hs","type":"quantitative","scale":null}}}
]},
{"data":{"name":"bottom"},"mark":{"type":"point","shape":"circle","filled":true,"fill":"white","stroke":"black","strokeWidth":1.2,"size":22,"opacity":1,"clip":true},"encoding":{}},
{"data":{"name":"ylab"},"mark":{"type":"text","fontSize":18,"font":"DejaVu Sans","color":"black","baseline":"middle","align":"center"},"encoding":{"text":{"field":"t"}}}
]}
],
"spacing":87,
"bounds":"flush",
"resolve":{"legend":{"color":"independent"}}
}
